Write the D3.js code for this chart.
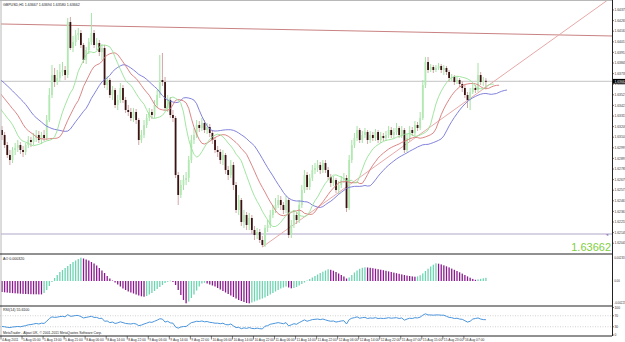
<!DOCTYPE html>
<html><head><meta charset="utf-8">
<script src="https://cdn.jsdelivr.net/npm/d3@7"></script>
<style>html,body{margin:0;padding:0;background:#fff;overflow:hidden}</style>
</head><body>
<svg id="c" width="625" height="342" xmlns="http://www.w3.org/2000/svg"></svg>
<script>
const symbol = "GBPUSD,H1";
const open = [1.63175,1.63125,1.63025,1.62925,1.62875,1.62975,1.62995,1.63025,1.62975,1.62955,
 1.63025,1.63075,1.63055,1.63095,1.63125,1.63075,1.63125,1.63095,1.63275,1.63525,
 1.63725,1.63655,1.63695,1.63755,1.63775,1.63725,1.64255,1.63995,1.64055,1.64125,
 1.64145,1.64025,1.63875,1.63975,1.64055,1.64145,1.64025,1.64045,1.63955,1.63995,
 1.63625,1.63675,1.63525,1.63575,1.63425,1.63475,1.63595,1.63475,1.63375,1.63355,
 1.63295,1.63355,1.63275,1.63075,1.63125,1.63225,1.63295,1.63355,1.63325,1.63425,
 1.63525,1.63675,1.63655,1.63395,1.63475,1.63325,1.63295,1.62725,1.62525,1.62625,
 1.62675,1.62695,1.62875,1.63075,1.63125,1.63225,1.63195,1.63245,1.63175,1.63205,
 1.63145,1.63075,1.62975,1.62955,1.62875,1.62925,1.62775,1.62725,1.62825,1.62625,
 1.62375,1.62475,1.62255,1.62325,1.62225,1.62295,1.62175,1.62125,1.62155,1.62075,
 1.62025,1.62195,1.62225,1.62325,1.62375,1.62425,1.62475,1.62425,1.62375,1.62475,
 1.62125,1.62225,1.62325,1.62275,1.62425,1.62575,1.62725,1.62605,1.62695,1.62775,
 1.62795,1.62825,1.62775,1.62845,1.62775,1.62705,1.62645,1.62675,1.62575,1.62625,
 1.62675,1.62695,1.62395,1.62875,1.63025,1.63095,1.63175,1.63075,1.63125,1.63155,
 1.63075,1.63125,1.63095,1.63155,1.63075,1.63115,1.63095,1.63125,1.63175,1.63125,
 1.63155,1.63195,1.63125,1.63175,1.62975,1.63095,1.63175,1.63145,1.63225,1.63195,
 1.63295,1.63625,1.63855,1.63775,1.63805,1.63775,1.63795,1.63815,1.63775,1.63795,
 1.63755,1.63695,1.63705,1.63655,1.63675,1.63635,1.63595,1.63525,1.63475,1.63555,
 1.63595,1.63575,1.63725,1.63655,1.63667];
const close = [1.63125,1.63025,1.62925,1.62875,1.62975,1.62995,1.63025,1.62975,1.62955,1.63025,
 1.63075,1.63055,1.63095,1.63125,1.63075,1.63125,1.63095,1.63275,1.63525,1.63725,
 1.63655,1.63695,1.63755,1.63775,1.63725,1.64255,1.63995,1.64055,1.64125,1.64145,
 1.64025,1.63875,1.63975,1.64055,1.64145,1.64025,1.64045,1.63955,1.63995,1.63625,
 1.63675,1.63525,1.63575,1.63425,1.63475,1.63595,1.63475,1.63375,1.63355,1.63295,
 1.63355,1.63275,1.63075,1.63125,1.63225,1.63295,1.63355,1.63325,1.63425,1.63525,
 1.63675,1.63655,1.63395,1.63475,1.63325,1.63295,1.62725,1.62525,1.62625,1.62675,
 1.62695,1.62875,1.63075,1.63125,1.63225,1.63195,1.63245,1.63175,1.63205,1.63145,
 1.63075,1.62975,1.62955,1.62875,1.62925,1.62775,1.62725,1.62825,1.62625,1.62375,
 1.62475,1.62255,1.62325,1.62225,1.62295,1.62175,1.62125,1.62155,1.62075,1.62025,
 1.62195,1.62225,1.62325,1.62375,1.62425,1.62475,1.62425,1.62375,1.62475,1.62125,
 1.62225,1.62325,1.62275,1.62425,1.62575,1.62725,1.62605,1.62695,1.62775,1.62795,
 1.62825,1.62775,1.62845,1.62775,1.62705,1.62645,1.62675,1.62575,1.62625,1.62675,
 1.62695,1.62395,1.62875,1.63025,1.63095,1.63175,1.63075,1.63125,1.63155,1.63075,
 1.63125,1.63095,1.63155,1.63075,1.63115,1.63095,1.63125,1.63175,1.63125,1.63155,
 1.63195,1.63125,1.63175,1.62975,1.63095,1.63175,1.63145,1.63225,1.63195,1.63295,
 1.63625,1.63855,1.63775,1.63805,1.63775,1.63795,1.63815,1.63775,1.63795,1.63755,
 1.63695,1.63705,1.63655,1.63675,1.63635,1.63595,1.63525,1.63475,1.63555,1.63595,
 1.63575,1.63725,1.63655,1.63667,1.63662];
const high = [1.63215,1.63155,1.63055,1.62975,1.63005,1.63045,1.63075,1.63055,1.63015,1.63045,
 1.63115,1.63105,1.63145,1.63175,1.63165,1.63155,1.63175,1.63325,1.63595,1.63825,
 1.63795,1.63775,1.63835,1.63855,1.63815,1.64295,1.64305,1.64115,1.64175,1.64195,
 1.64175,1.64045,1.64005,1.64095,1.64345,1.64175,1.64095,1.64075,1.64035,1.64025,
 1.63715,1.63695,1.63615,1.63595,1.63525,1.63645,1.63625,1.63505,1.63425,1.63395,
 1.63395,1.63385,1.63295,1.63175,1.63275,1.63335,1.63395,1.63385,1.63475,1.63575,
 1.63925,1.63945,1.63705,1.63525,1.63505,1.63375,1.63315,1.62755,1.62675,1.62725,
 1.62755,1.62915,1.63125,1.63195,1.63275,1.63265,1.63295,1.63275,1.63245,1.63235,
 1.63175,1.63105,1.63015,1.62985,1.62975,1.62945,1.62815,1.62875,1.62855,1.62655,
 1.62525,1.62495,1.62375,1.62355,1.62345,1.62325,1.62215,1.62195,1.62185,1.62115,
 1.62225,1.62275,1.62375,1.62425,1.62495,1.62525,1.62515,1.62455,1.62515,1.62495,
 1.62275,1.62375,1.62355,1.62475,1.62625,1.62775,1.62755,1.62735,1.62825,1.62845,
 1.62875,1.62855,1.62875,1.62875,1.62805,1.62735,1.62715,1.62695,1.62665,1.62715,
 1.62745,1.62725,1.62925,1.63075,1.63145,1.63215,1.63195,1.63165,1.63195,1.63175,
 1.63165,1.63155,1.63185,1.63175,1.63155,1.63145,1.63165,1.63215,1.63205,1.63195,
 1.63245,1.63215,1.63215,1.63195,1.63135,1.63215,1.63205,1.63265,1.63255,1.63355,
 1.63675,1.63905,1.63905,1.63835,1.63825,1.63825,1.63845,1.63835,1.63825,1.63815,
 1.63775,1.63735,1.63725,1.63705,1.63695,1.63665,1.63625,1.63555,1.63595,1.63635,
 1.63625,1.63845,1.63755,1.63705,1.63694];
const low = [1.63075,1.62995,1.62895,1.62825,1.62845,1.62925,1.62955,1.62935,1.62905,1.62925,
 1.62995,1.63005,1.63025,1.63055,1.63045,1.63035,1.63065,1.63075,1.63255,1.63495,
 1.63605,1.63625,1.63655,1.63715,1.63675,1.63695,1.63975,1.63955,1.64015,1.64075,
 1.63995,1.63845,1.63835,1.63935,1.64025,1.63995,1.63975,1.63915,1.63875,1.63595,
 1.63575,1.63495,1.63475,1.63395,1.63375,1.63445,1.63445,1.63345,1.63315,1.63265,
 1.63255,1.63235,1.63025,1.63045,1.63095,1.63195,1.63265,1.63285,1.63295,1.63395,
 1.63495,1.63615,1.63375,1.63355,1.63295,1.63255,1.62695,1.62425,1.62495,1.62575,
 1.62625,1.62655,1.62845,1.63035,1.63095,1.63155,1.63165,1.63145,1.63135,1.63105,
 1.63035,1.62945,1.62905,1.62835,1.62825,1.62735,1.62675,1.62695,1.62575,1.62345,
 1.62325,1.62215,1.62195,1.62175,1.62175,1.62135,1.62075,1.62085,1.62045,1.62005,
 1.62005,1.62155,1.62195,1.62295,1.62345,1.62395,1.62375,1.62335,1.62345,1.62095,
 1.62095,1.62195,1.62235,1.62245,1.62395,1.62545,1.62575,1.62575,1.62665,1.62735,
 1.62755,1.62735,1.62745,1.62745,1.62675,1.62605,1.62615,1.62545,1.62535,1.62595,
 1.62645,1.62355,1.62375,1.62845,1.62995,1.63065,1.63045,1.63045,1.63095,1.63035,
 1.63045,1.63065,1.63065,1.63045,1.63045,1.63065,1.63065,1.63095,1.63095,1.63095,
 1.63125,1.63095,1.63095,1.62945,1.62955,1.63065,1.63115,1.63115,1.63165,1.63175,
 1.63275,1.63595,1.63745,1.63755,1.63745,1.63755,1.63775,1.63745,1.63725,1.63725,
 1.63655,1.63665,1.63625,1.63635,1.63605,1.63555,1.63495,1.63395,1.63375,1.63535,
 1.63545,1.63555,1.63625,1.63615,1.63580];
// median prices of the bars just before the visible window (they seed the Alligator averages)
const earlierMedian = [1.63875,1.63855,1.63825,1.63845,1.63795,1.63755,1.63725,1.63695,1.63655,1.63625,
 1.63575,1.63525,1.63475,1.63425,1.63395,1.63355,1.63325,1.63295,1.63255,1.63225,1.63195,1.63155];
const ao = [-0.00110,-0.00113,-0.00116,-0.00119,-0.00121,-0.00123,-0.00125,-0.00127,-0.00129,-0.00130,
 -0.00131,-0.00132,-0.00133,-0.00133,-0.00134,-0.00134,-0.00120,-0.00090,-0.00050,-0.00010,
 0.00030,0.00060,0.00090,0.00110,0.00130,0.00150,0.00170,0.00190,0.00205,0.00220,
 0.00233,0.00225,0.00215,0.00205,0.00190,0.00175,0.00155,0.00130,0.00105,0.00080,
 0.00050,0.00025,0.00005,-0.00015,-0.00035,-0.00055,-0.00075,-0.00090,-0.00105,-0.00115,
 -0.00125,-0.00135,-0.00145,-0.00153,-0.00157,-0.00150,-0.00135,-0.00120,-0.00100,-0.00080,
 -0.00060,-0.00040,-0.00020,-0.00008,0.00003,-0.00010,-0.00040,-0.00090,-0.00140,-0.00190,
 -0.00223,-0.00205,-0.00170,-0.00135,-0.00095,-0.00055,-0.00025,-0.00018,-0.00025,-0.00035,
 -0.00045,-0.00055,-0.00070,-0.00085,-0.00100,-0.00115,-0.00130,-0.00145,-0.00160,-0.00175,
 -0.00190,-0.00200,-0.00210,-0.00220,-0.00223,-0.00215,-0.00205,-0.00195,-0.00185,-0.00175,
 -0.00165,-0.00150,-0.00135,-0.00120,-0.00105,-0.00090,-0.00075,-0.00065,-0.00055,-0.00065,
 -0.00073,-0.00070,-0.00060,-0.00045,-0.00030,-0.00015,0.00005,0.00020,0.00035,0.00050,
 0.00065,0.00080,0.00093,0.00105,0.00117,0.00112,0.00103,0.00090,0.00075,0.00060,
 0.00045,0.00025,0.00035,0.00060,0.00085,0.00105,0.00122,0.00132,0.00137,0.00135,
 0.00132,0.00128,0.00123,0.00118,0.00113,0.00108,0.00102,0.00096,0.00090,0.00084,
 0.00078,0.00072,0.00066,0.00060,0.00054,0.00050,0.00046,0.00043,0.00046,0.00058,
 0.00076,0.00100,0.00123,0.00145,0.00163,0.00177,0.00173,0.00166,0.00157,0.00147,
 0.00136,0.00124,0.00112,0.00100,0.00087,0.00074,0.00060,0.00046,0.00033,0.00021,
 0.00012,0.00016,0.00022,0.00027,0.00032];
const rsi = [31,30,28,27,29,30,31,30,32,34,
 37,38,40,42,40,43,42,50,60,66,
 64,65,67,68,66,74,68,69,71,71,
 67,62,64,66,68,64,64,60,61,50,
 51,45,47,42,44,48,45,42,41,40,
 42,40,34,36,40,43,47,46,50,54,
 59,58,47,50,44,43,29,25,29,31,
 31,38,45,47,50,49,51,48,49,46,
 45,43,43,41,43,38,37,40,33,27,
 28,23,26,24,27,24,23,25,23,22,
 32,34,39,41,43,45,43,41,45,33,
 37,41,39,45,50,55,50,53,56,57,
 58,56,58,55,52,50,51,47,49,51,
 52,40,56,61,63,66,61,63,64,60,
 62,61,63,60,61,60,61,63,61,62,
 63,60,62,54,58,61,60,63,62,65,
 72,77,73,73,72,73,73,72,72,68,
 64,63,60,61,58,57,52,47,50,58,
 60,62,58,56,55.61];
const timeLabels = ["4 Aug 2011","5 Aug 05:00","5 Aug 13:00","5 Aug 21:00","8 Aug 06:00","8 Aug 14:00",
 "8 Aug 22:00","9 Aug 06:00","9 Aug 14:00","9 Aug 22:00","10 Aug 06:00","10 Aug 14:00","10 Aug 22:00",
 "11 Aug 06:00","11 Aug 14:00","11 Aug 22:00","12 Aug 06:00","12 Aug 14:00","12 Aug 22:00",
 "15 Aug 07:00","15 Aug 15:00","15 Aug 23:00","16 Aug 07:00"];
const timeLabelBars = [0,8,16,24,32,40,48,56,64,72,80,88,96,104,112,120,128,136,144,152,160,168,176];
const priceTicks = [1.64375,1.64269,1.64163,1.64057,1.63951,1.63845,1.63739,1.63633,1.63527,1.63421,
 1.63315,1.63209,1.63103,1.62997,1.62891,1.62785,1.62679,1.62573,1.62467,1.62361,1.62255,1.62149,1.62043];
const aoTicks = [0.00233,0,-0.00223];
const rsiTicks = [100,70,30,0];
const rsiLevels = [70,30];
const trendTopBars = [0,184], trendTopPrices = [1.64235,1.64140];
const trendUpBars = [99,178], trendUpPrices = [1.62005,1.63491];
const levelPrice = 1.62135;

const svg = d3.select("#c");
const FONT = "'Liberation Sans', Arial, sans-serif";
const N = close.length;
const x = d3.scaleLinear().domain([0, 184]).range([2, 2 + 184 * 2.63]);
const y = d3.scaleLinear().domain([1.61935, 1.64475]).range([254, 0]);
const yAO = d3.scaleLinear().domain([-0.00223, 0.00233]).range([303.3, 257.7]);
const yR = d3.scaleLinear().domain([0, 100]).range([335, 307.5]);
const RIGHT = 612;

svg.append("rect").attr("width",625).attr("height",342).attr("fill","#fff");
const defs = svg.append("defs");
defs.append("clipPath").attr("id","mainClip").append("rect").attr("x",1).attr("y",0).attr("width",RIGHT-1).attr("height",254);

const main = svg.append("g").attr("clip-path","url(#mainClip)");

// horizontal objects
main.append("line").attr("x1",0).attr("x2",RIGHT).attr("y1",y(close[N-1])).attr("y2",y(close[N-1]))
  .attr("stroke","#c4c4c4").attr("stroke-width",1);
main.append("line").attr("x1",0).attr("x2",RIGHT).attr("y1",y(levelPrice)).attr("y2",y(levelPrice))
  .attr("stroke","#cbc3dc").attr("stroke-width",1.6);

// trend lines (rays extended to the right edge)
function ray(bars, prices, color) {
  const slope = (y(prices[1]) - y(prices[0])) / (x(bars[1]) - x(bars[0]));
  const x0 = x(bars[0]), y0 = y(prices[0]);
  const xs = bars[0] === 0 ? 0 : x0;
  main.append("line").attr("x1", xs).attr("y1", y0 + slope*(xs-x0))
    .attr("x2", RIGHT).attr("y2", y0 + slope*(RIGHT-x0))
    .attr("stroke", color).attr("stroke-width", 1);
}
ray(trendTopBars, trendTopPrices, "#c98282");
ray(trendUpBars, trendUpPrices, "#e8a8a8");

// candles
const cg = main.append("g");
for (let i = 0; i < N; i++) {
  const bull = close[i] >= open[i];
  cg.append("line").attr("x1",x(i)).attr("x2",x(i)).attr("y1",y(high[i])).attr("y2",y(low[i]))
    .attr("stroke", bull ? "#a6e2a6" : "#d4a6a6").attr("stroke-width",1);
  const top = y(Math.max(open[i],close[i])), bot = y(Math.min(open[i],close[i]));
  cg.append("rect").attr("x",x(i)-0.9).attr("width",1.8).attr("y",top).attr("height",Math.max(1,bot-top))
    .attr("fill", bull ? "#b2e8b2" : "#3a1212");
}

// Alligator (SMMA of median price, shifted forward)
const med = earlierMedian.concat(high.map((h,i)=>(h+low[i])/2));
const off = earlierMedian.length;
function smma(vals, p) {
  const out = new Array(vals.length).fill(null);
  let s = 0; for (let i = 0; i < p; i++) s += vals[i];
  out[p-1] = s/p;
  for (let i = p; i < vals.length; i++) out[i] = (out[i-1]*(p-1) + vals[i]) / p;
  return out;
}
function alligator(p, shift, color) {
  const s = smma(med, p), pts = [];
  s.forEach((v,k) => { if (v == null) return; const b = k - off + shift; if (b < -2) return; pts.push([b, v]); });
  main.append("path").attr("d", d3.line().x(d=>x(d[0])).y(d=>y(d[1]))(pts))
    .attr("fill","none").attr("stroke",color).attr("stroke-width",0.9);
}
alligator(13, 8, "#7474d8");
alligator(8, 5, "#d87878");
alligator(5, 3, "#96e296");

// header
const f5 = d3.format(".5f");
svg.append("text").attr("x",3).attr("y",6).attr("font-family",FONT).attr("font-size",3.6).attr("fill","#222")
  .text(`${symbol}  ${f5(open[N-1])} ${f5(high[N-1])} ${f5(low[N-1])} ${f5(close[N-1])}`);

// big price text
svg.append("text").attr("x",611).attr("y",250.5).attr("text-anchor","end").attr("font-family",FONT)
  .attr("font-size",11).attr("fill","#7fce3f").text(f5(close[N-1]));

// AO panel
const aog = svg.append("g");
ao.forEach((v,i) => {
  const up = i > 0 && v > ao[i-1];
  const a = yAO(0), b = yAO(v);
  aog.append("rect").attr("x", x(i)-0.65).attr("width",1.3).attr("y",Math.min(a,b)).attr("height",Math.max(0.5,Math.abs(b-a)))
    .attr("fill", up ? "#6fd4b2" : "#8a1a8e");
});
svg.append("text").attr("x",3).attr("y",259.8).attr("font-family",FONT).attr("font-size",3.6).attr("fill","#222")
  .text("AO " + ao[N-1].toFixed(6));

// RSI panel
rsiLevels.forEach(l => svg.append("line").attr("x1",0).attr("x2",RIGHT).attr("y1",yR(l)).attr("y2",yR(l))
  .attr("stroke","#bdbdbd").attr("stroke-width",0.7).attr("stroke-dasharray","1,1.5"));
svg.append("path").attr("d", d3.line().x((d,i)=>x(i)).y(d=>yR(d))(rsi))
  .attr("fill","none").attr("stroke","#4a95dc").attr("stroke-width",1);
svg.append("text").attr("x",3).attr("y",310.5).attr("font-family",FONT).attr("font-size",3.6).attr("fill","#222")
  .text("RSI(14) " + rsi[N-1].toFixed(4));
svg.append("text").attr("x",3).attr("y",333.6).attr("font-family",FONT).attr("font-size",3.4).attr("fill","#222")
  .text("MetaTrader - Alpari UK, \u00a9 2001-2011 MetaQuotes Software Corp.");

// frame lines
svg.append("line").attr("x1",0).attr("x2",RIGHT).attr("y1",0.5).attr("y2",0.5).attr("stroke","#b8b8b8");
svg.append("line").attr("x1",1).attr("x2",1).attr("y1",0).attr("y2",336).attr("stroke","#b8b8b8");
[254, 306, 336].forEach(yy => svg.append("line").attr("x1",0).attr("x2",RIGHT).attr("y1",yy).attr("y2",yy)
  .attr("stroke","#222").attr("stroke-width",1));
svg.append("line").attr("x1",RIGHT+0.5).attr("x2",RIGHT+0.5).attr("y1",0).attr("y2",336).attr("stroke","#222");

// right axis: price
const ax = svg.append("g").attr("font-family",FONT).attr("font-size",3.3).attr("fill","#333");
priceTicks.forEach(p => {
  ax.append("line").attr("x1",RIGHT).attr("x2",RIGHT+2).attr("y1",y(p)).attr("y2",y(p)).attr("stroke","#222").attr("stroke-width",0.6);
  ax.append("text").attr("x",RIGHT+2.5).attr("y",y(p)+1.1).text(f5(p));
});
const yb = y(close[N-1]);
svg.append("rect").attr("x",RIGHT+1).attr("y",yb-2.4).attr("width",13).attr("height",4.8).attr("fill","#000");
svg.append("text").attr("x",RIGHT+2.5).attr("y",yb+1.2).attr("font-family",FONT).attr("font-size",3.3).attr("fill","#fff").text(f5(close[N-1]));
svg.append("text").attr("x",RIGHT-3).attr("y",y(levelPrice)+1.5).attr("text-anchor","end").attr("font-family",FONT)
  .attr("font-size",4).attr("fill","#8a7fc0").text("\u25c4");

// right axis: AO
aoTicks.forEach(v => {
  svg.append("text").attr("x",RIGHT+2.2).attr("y",yAO(v)+1.1).attr("font-family",FONT).attr("font-size",2.9).attr("fill","#333")
    .text(v === 0 ? "0.00" : v.toFixed(5));
});
// right axis: RSI
rsiTicks.forEach(v => {
  svg.append("line").attr("x1",RIGHT).attr("x2",RIGHT+2).attr("y1",yR(v)).attr("y2",yR(v)).attr("stroke","#222").attr("stroke-width",0.6);
  svg.append("text").attr("x",RIGHT+2.5).attr("y",yR(v)+1.1).attr("font-family",FONT).attr("font-size",3.3).attr("fill","#333").text(v);
});

// time axis
timeLabels.forEach((t,k) => {
  const xx = x(timeLabelBars[k]) - 1;
  svg.append("line").attr("x1",xx).attr("x2",xx).attr("y1",336).attr("y2",339.5).attr("stroke","#222").attr("stroke-width",0.6);
  svg.append("text").attr("x",xx+1).attr("y",340.8).attr("font-family",FONT).attr("font-size",3.3).attr("fill","#333").text(t);
});
</script>
</body></html>
